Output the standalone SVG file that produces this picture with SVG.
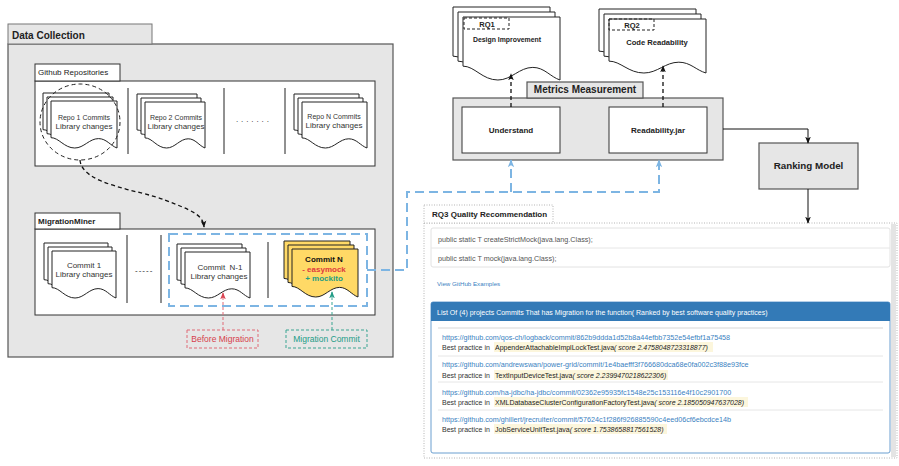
<svg xmlns="http://www.w3.org/2000/svg" width="899" height="466" viewBox="0 0 899 466">
<style>
text{font-family:"Liberation Sans",Arial,sans-serif;fill:#222}
.b{font-weight:bold}
.grey{fill:#e6e6e6;stroke:#555;stroke-width:1.2}
.gtab{fill:#e6e6e6;stroke:#777;stroke-width:1}
.white{fill:#fff;stroke:#333;stroke-width:1}
.doc{fill:#fff;stroke:#222;stroke-width:1}
.ydoc{fill:#ffd966;stroke:#222;stroke-width:1}
.sep{stroke:#222;stroke-width:1}
.bdash{fill:none;stroke:#7db5e3;stroke-width:2;stroke-dasharray:9 5}
.kdash{fill:none;stroke:#111;stroke-width:1.3;stroke-dasharray:4 3}
.solid{fill:none;stroke:#111;stroke-width:1}
.dt{font-size:8px;fill:#333;text-anchor:middle}
.dts{font-size:7px;fill:#333;text-anchor:middle}
.rq{font-size:7.2px}
.lnk{font-size:7.2px;fill:#3a7fc1}
.hl{fill:#fcf6dc}
.sepl{stroke:#e6e6e6;stroke-width:1}
</style>
<defs>
<path id="doc" d="M0,0 H100 V100 C90,95 84,80 72,80 C58,80 50,100 36,100 C20,100 12,78 0,78 Z" vector-effect="non-scaling-stroke"/>
<marker id="ak" viewBox="0 0 10 10" refX="9" refY="5" markerWidth="7" markerHeight="7" markerUnits="userSpaceOnUse" orient="auto"><path d="M0,1 L10,5 L0,9 L2.5,5 Z" fill="#111"/></marker>
<marker id="ab" viewBox="0 0 10 10" refX="9" refY="5" markerWidth="8" markerHeight="8" markerUnits="userSpaceOnUse" orient="auto"><path d="M0,1 L10,5 L0,9 L2.5,5 Z" fill="#7db5e3"/></marker>
<marker id="ar" viewBox="0 0 10 10" refX="9" refY="5" markerWidth="7" markerHeight="7" markerUnits="userSpaceOnUse" orient="auto"><path d="M0,1 L10,5 L0,9 L2.5,5 Z" fill="#d94452"/></marker>
<marker id="at" viewBox="0 0 10 10" refX="9" refY="5" markerWidth="7" markerHeight="7" markerUnits="userSpaceOnUse" orient="auto"><path d="M0,1 L10,5 L0,9 L2.5,5 Z" fill="#229c86"/></marker>
</defs>

<g id="data-collection">
<rect class="grey" x="8" y="44" width="385" height="313"/>
<rect class="gtab" x="8" y="24" width="144" height="20"/>
<text class="b" x="12" y="39" font-size="10">Data Collection</text>
</g>

<g id="github-repositories">
<rect class="white" x="35" y="81" width="340" height="85"/>
<rect class="white" x="35" y="64" width="85" height="17"/>
<text x="38" y="75" font-size="8">Github Repositories</text>
<line class="sep" x1="128" y1="88" x2="128" y2="154"/>
<line class="sep" x1="224" y1="88" x2="224" y2="154"/>
<line class="sep" x1="285" y1="88" x2="285" y2="154"/>
<text x="236" y="122" font-size="8" letter-spacing="2.9">.......</text>
</g>

<g id="repo1">
<use href="#doc" class="doc" transform="translate(43,93) scale(.66,.47)"/>
<use href="#doc" class="doc" transform="translate(47,97) scale(.66,.47)"/>
<use href="#doc" class="doc" transform="translate(51,101) scale(.66,.47)"/>
<text class="dts" x="84" y="120">Repo 1 Commits</text>
<text class="dt" x="84" y="129">Library changes</text>
<ellipse cx="80" cy="122" rx="40" ry="38" fill="none" stroke="#222" stroke-width="1" stroke-dasharray="4 3"/>
</g>

<g id="repo2">
<use href="#doc" class="doc" transform="translate(137,94) scale(.60,.46)"/>
<use href="#doc" class="doc" transform="translate(141,98) scale(.60,.46)"/>
<use href="#doc" class="doc" transform="translate(145,102) scale(.60,.46)"/>
<text class="dts" x="176" y="120">Repo 2 Commits</text>
<text class="dt" x="176" y="129">Library changes</text>
</g>

<g id="repoN">
<use href="#doc" class="doc" transform="translate(294,94) scale(.65,.46)"/>
<use href="#doc" class="doc" transform="translate(298,98) scale(.65,.46)"/>
<use href="#doc" class="doc" transform="translate(302,102) scale(.65,.46)"/>
<text class="dts" x="334" y="119">Repo N Commits</text>
<text class="dt" x="334" y="128">Library changes</text>
</g>

<g id="migrationminer">
<rect class="white" x="35" y="229" width="340" height="86"/>
<rect class="white" x="35" y="213" width="85" height="16"/>
<text class="b" x="38" y="224" font-size="8">MigrationMiner</text>
<line class="sep" x1="127" y1="235" x2="127" y2="303"/>
<line class="sep" x1="161" y1="235" x2="161" y2="303"/>
<line class="sep" x1="268" y1="242" x2="268" y2="298"/>
<text x="135" y="273" font-size="8" letter-spacing="1">-----</text>
</g>

<g id="commit1">
<use href="#doc" class="doc" transform="translate(44,243) scale(.64,.47)"/>
<use href="#doc" class="doc" transform="translate(48,247) scale(.64,.47)"/>
<use href="#doc" class="doc" transform="translate(52,251) scale(.64,.47)"/>
<text class="dt" x="84" y="268">Commit 1</text>
<text class="dt" x="84" y="277">Library changes</text>
</g>

<g id="commitN-1">
<use href="#doc" class="doc" transform="translate(177,244) scale(.65,.46)"/>
<use href="#doc" class="doc" transform="translate(181,248) scale(.65,.46)"/>
<use href="#doc" class="doc" transform="translate(185,252) scale(.65,.46)"/>
<text class="dt" x="220" y="270" style="white-space:pre">Commit  N-1</text>
<text class="dt" x="219" y="279">Library changes</text>
</g>

<g id="commitN">
<use href="#doc" class="ydoc" transform="translate(284,241) scale(.66,.48)"/>
<use href="#doc" class="ydoc" transform="translate(288,245) scale(.66,.48)"/>
<use href="#doc" class="ydoc" transform="translate(292,249) scale(.66,.48)"/>
<text class="dt b" x="324" y="262" style="fill:#111">Commit N</text>
<text class="dt b" x="324" y="272" style="fill:#e03a3e">- easymock</text>
<text class="dt b" x="324" y="281" style="fill:#1f9e84">+ mockito</text>
</g>

<g id="before-migration">
<rect x="187" y="330" width="71" height="18" fill="none" stroke="#e06a76" stroke-width="1" stroke-dasharray="3 2"/>
<text x="222.5" y="342" font-size="8.5" text-anchor="middle" style="fill:#d63e4c">Before Migration</text>
</g>

<g id="migration-commit">
<rect x="286" y="330" width="81" height="18" fill="none" stroke="#3aa592" stroke-width="1" stroke-dasharray="3 2"/>
<text x="326.5" y="342" font-size="8.5" text-anchor="middle" style="fill:#229c86">Migration Commit</text>
</g>

<g id="rq1">
<use href="#doc" class="doc" transform="translate(453,7) scale(.97,.63)"/>
<use href="#doc" class="doc" transform="translate(458,12) scale(.97,.63)"/>
<use href="#doc" class="doc" transform="translate(463,17) scale(.97,.63)"/>
<rect x="464" y="18" width="45" height="11" fill="none" stroke="#222" stroke-width="1" stroke-dasharray="3 2"/>
<text class="b" x="487" y="26.5" font-size="7.5" text-anchor="middle">RQ1</text>
<text class="b" x="507" y="42" font-size="6.9" text-anchor="middle">Design Improvement</text>
</g>

<g id="rq2">
<use href="#doc" class="doc" transform="translate(599,9) scale(.97,.54)"/>
<use href="#doc" class="doc" transform="translate(604,14) scale(.97,.54)"/>
<use href="#doc" class="doc" transform="translate(609,19) scale(.97,.54)"/>
<rect x="609" y="19" width="45" height="11" fill="none" stroke="#222" stroke-width="1" stroke-dasharray="3 2"/>
<text class="b" x="632" y="28" font-size="7.5" text-anchor="middle">RQ2</text>
<text class="b" x="657" y="45" font-size="7.6" text-anchor="middle">Code Readability</text>
</g>

<g id="metrics-measurement">
<rect class="grey" x="453" y="98" width="270" height="62"/>
<rect class="grey" x="527" y="82" width="116" height="16"/>
<text class="b" x="585" y="92.5" font-size="10" text-anchor="middle">Metrics Measurement</text>
</g>

<g id="understand">
<rect class="white" x="462" y="107" width="98" height="46"/>
<text class="b" x="511" y="132.5" font-size="8" text-anchor="middle">Understand</text>
</g>

<g id="readability">
<rect class="white" x="609" y="107" width="98" height="46"/>
<text class="b" x="658" y="132.5" font-size="8" text-anchor="middle">Readability.jar</text>
</g>

<g id="ranking-model">
<rect class="grey" x="759" y="143" width="99" height="46"/>
<text class="b" x="808.5" y="169" font-size="9.8" text-anchor="middle">Ranking Model</text>
</g>

<g id="rq3">
<rect x="424" y="223" width="473" height="235" fill="#fff" stroke="#b5b5b5" stroke-width="1" stroke-dasharray="1 1.5"/>
<rect x="891" y="224" width="5" height="233" fill="#e4e4e4"/>
<rect x="424" y="205" width="129" height="18" fill="#fff" stroke="#b5b5b5" stroke-width="1" stroke-dasharray="1 1.5"/>
<text class="b" x="432" y="216.5" font-size="8">RQ3 Quality Recommendation</text>
<rect x="431" y="228" width="459" height="39" fill="#fff" stroke="#e2e2e2" stroke-width="1" rx="2"/>
<line x1="431" y1="248" x2="890" y2="248" stroke="#e6e6e6"/>
<text class="rq" x="438" y="242" style="fill:#555">public static T createStrictMock(java.lang.Class);</text>
<text class="rq" x="438" y="261" style="fill:#555">public static T mock(java.lang.Class);</text>
<text x="437" y="286" font-size="6.2" style="fill:#3a7fc1">View GitHub Examples</text>
<rect x="431" y="302" width="459" height="151" fill="#fff" stroke="#6b9fd0" stroke-width="1" rx="2"/>
<path d="M431,321 V304 Q431,302 433,302 H888 Q890,302 890,304 V321 Z" fill="#337ab7"/>
<text x="437" y="314.5" font-size="7" style="fill:#fff">List Of (4) projects Commits That has Migration for the function( Ranked by best software quality practices)</text>
<line x1="438" y1="328" x2="883" y2="328" stroke="#ebebeb" stroke-width="2"/>
<line class="sepl" x1="438" y1="356" x2="883" y2="356"/>
<line class="sepl" x1="438" y1="382" x2="883" y2="382"/>
<line class="sepl" x1="438" y1="410" x2="883" y2="410"/>
<rect class="hl" x="494" y="342" width="219" height="10"/>
<rect class="hl" x="494" y="370" width="174" height="10"/>
<rect class="hl" x="494" y="397" width="254" height="10"/>
<rect class="hl" x="494" y="424" width="173" height="10"/>
<text class="lnk" x="442" y="339.5">https://github.com/qos-ch/logback/commit/862b9ddda1d52b8a44efbb7352e54efbf1a75458</text>
<text x="442" y="349.5" font-size="7" style="fill:#333">Best practice in</text>
<text x="495" y="349.5" font-size="7" style="fill:#222">AppenderAttachableImplLockTest.java<tspan font-style="italic">( score 2.4758048723318877)</tspan></text>
<text class="lnk" x="442" y="366.5">https://github.com/andrewswan/power-grid/commit/1e4baefff3f766680dca68e0fa002c3f88e93fce</text>
<text x="442" y="377.5" font-size="7" style="fill:#333">Best practice in</text>
<text x="495" y="377.5" font-size="7" style="fill:#222">TextInputDeviceTest.java<tspan font-style="italic">( score 2.2399470218622306)</tspan></text>
<text class="lnk" x="442" y="394.5">https://github.com/ha-jdbc/ha-jdbc/commit/02362e95935fc1548e25c153116e4f10c2901700</text>
<text x="442" y="404.5" font-size="7" style="fill:#333">Best practice in</text>
<text x="495" y="404.5" font-size="7" style="fill:#222">XMLDatabaseClusterConfigurationFactoryTest.java<tspan font-style="italic">( score 2.185050947637028)</tspan></text>
<text class="lnk" x="442" y="421.5">https://github.com/ghillert/jrecruiter/commit/57624c1f286f926885590c4eed06cf6ebcdce14b</text>
<text x="442" y="431.5" font-size="7" style="fill:#333">Best practice in</text>
<text x="495" y="431.5" font-size="7" style="fill:#222">JobServiceUnitTest.java<tspan font-style="italic">( score 1.7538658817561528)</tspan></text>
</g>

<g id="connectors">
<path class="kdash" d="M80,160 C82,185 140,190 165,200 C190,210 203,214 204,227" marker-end="url(#ak)"/>
<rect class="bdash" x="169" y="234" width="198" height="72"/>
<path d="M223,330 V293" fill="none" stroke="#e06a76" stroke-width="1" stroke-dasharray="3 2" marker-end="url(#ar)"/>
<path d="M332,330 V292" fill="none" stroke="#3aa592" stroke-width="1" stroke-dasharray="3 2" marker-end="url(#at)"/>
<path class="bdash" d="M367,270 H407 V192 H659 V160" marker-end="url(#ab)"/>
<path class="bdash" d="M511,192 V160" marker-end="url(#ab)"/>
<path class="kdash" d="M511,107 V74" marker-end="url(#ak)"/>
<path class="kdash" d="M663,107 V66" marker-end="url(#ak)"/>
<path class="solid" d="M723,129 H808 V143" marker-end="url(#ak)"/>
<path class="solid" d="M808,189 V223" marker-end="url(#ak)"/>
</g>
</svg>
